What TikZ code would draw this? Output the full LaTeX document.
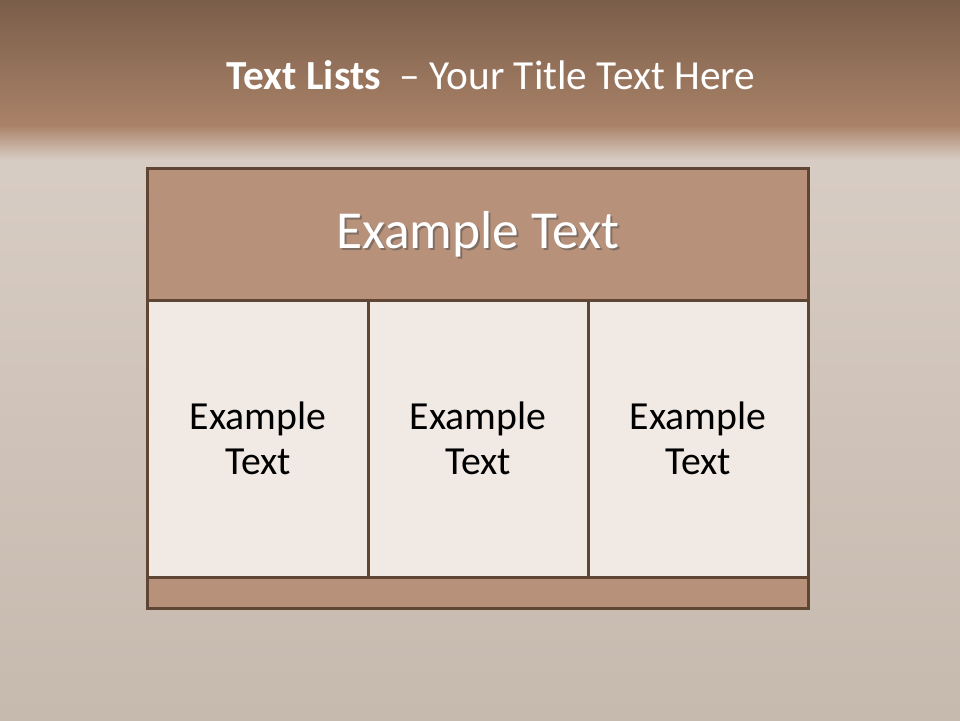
\documentclass[tikz,border=0pt]{standalone}
\usepackage{fontspec}
\setmainfont{Carlito}
\usepackage{tikz}
\usetikzlibrary{positioning, shadings}
\definecolor{topbrown}{HTML}{7A5E4A}
\definecolor{midbrown}{HTML}{AA8268}
\definecolor{wallpale}{HTML}{D8CDC4}
\definecolor{walldark}{HTML}{C6B9AE}
\definecolor{boxbrown}{HTML}{B8917A}
\definecolor{edgebrown}{HTML}{5F4533}
\definecolor{cellfill}{HTML}{F0E9E4}
\tikzset{
	framebox/.style={
			shape=rectangle,
			draw=edgebrown,
			line width=0.75mm,
			inner sep=0pt
		},
	headbox/.style={
			framebox,
			fill=boxbrown,
			minimum width=165mm,
			minimum height=33mm
		},
	cellbox/.style={
			framebox,
			fill=cellfill,
			minimum width=55mm,
			minimum height=69.25mm
		},
	footbox/.style={
			framebox,
			fill=boxbrown,
			minimum width=165mm,
			minimum height=7.75mm
		}
}
\tikzset{
	headtext/.style={font=\fontsize{38}{44}\selectfont, text=white},
	celltext/.style={font=\fontsize{28.3}{32}\selectfont, text=black, align=center},
	titletext/.style={font=\fontsize{29.4}{34}\selectfont, text=white}
}

\begin{document}
\begin{tikzpicture}[x=0.25mm, y=-0.25mm]
	\useasboundingbox (0,0) rectangle (960,720);
	% wall
	\shade[top color=wallpale, bottom color=walldark] (0,140) rectangle (960,720);
	\shade[top color=midbrown, bottom color=wallpale] (0,125) rectangle (960,160);
	\shade[top color=topbrown, bottom color=midbrown] (0,0) rectangle (960,126);

	\node[titletext] (title) at (491,75) {\textbf{Text Lists}\ \ – Your Title Text Here};

	\node[headbox] (head) at (478,234) {};
	\node[cellbox] (c1) at (258,438.5) {};
	\node[cellbox] (c2) at (478,438.5) {};
	\node[cellbox] (c3) at (698,438.5) {};
	\node[footbox] (foot) at (478,592.5) {};

	\node[headtext, text=black!70, opacity=0.5] at ([xshift=0.5mm, yshift=-0.5mm]head.center) {Example Text};
	\node[headtext] (headlbl) at (head.center) {Example Text};
	\node[celltext] (t1) at (c1.center) {Example\\Text};
	\node[celltext] (t2) at (c2.center) {Example\\Text};
	\node[celltext] (t3) at (c3.center) {Example\\Text};
\end{tikzpicture}
\end{document}
